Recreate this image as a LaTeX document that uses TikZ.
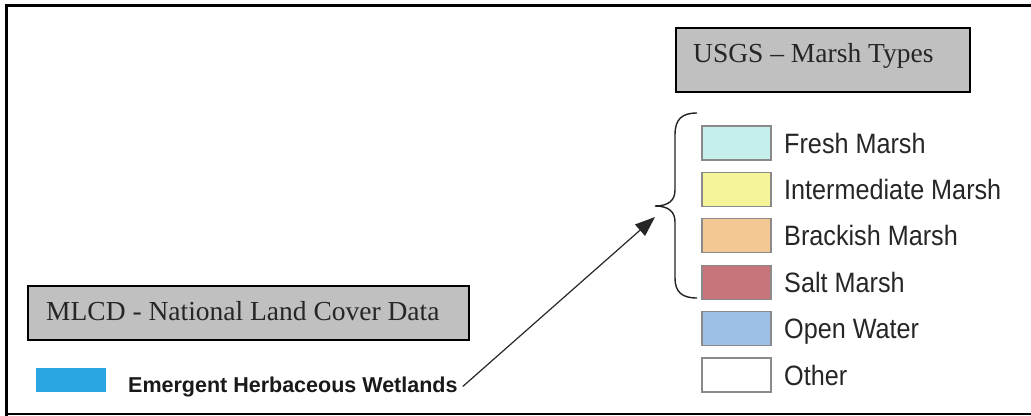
\documentclass[tikz,border=0pt]{standalone}
\usepackage{fontspec}
\setmainfont{Liberation Serif}
\newfontfamily\legfont[FakeStretch=0.9]{Liberation Sans}
\newfontfamily\emfont{Liberation Sans}
\usetikzlibrary{arrows.meta}
\definecolor{boxgray}{HTML}{C0C0C0}
\definecolor{fresh}{HTML}{C4EFEA}
\definecolor{inter}{HTML}{F6F49B}
\definecolor{brack}{HTML}{F3C893}
\definecolor{salt}{HTML}{C7757A}
\definecolor{openw}{HTML}{9EC0E7}
\definecolor{nlcdblue}{HTML}{29A5E2}
\definecolor{swatchedge}{HTML}{8A8A8A}
\definecolor{bracecol}{HTML}{222222}
\tikzset{
  titlebox/.style={draw=black, line width=1.3bp, fill=boxgray, inner sep=0pt},
  titletext/.style={inner sep=0pt, anchor=base west, font=\fontsize{27.5bp}{32bp}\selectfont, text=black!85},
  swatch/.style={draw=swatchedge, line width=1.2bp, minimum width=69bp, minimum height=34bp, inner sep=0pt},
  legtext/.style={inner sep=0pt, anchor=base west, font=\legfont\fontsize{28bp}{32bp}\selectfont, text=black!85},
  emtext/.style={inner xsep=5bp, inner ysep=0pt, anchor=base west, font=\emfont\bfseries\fontsize{21.5bp}{24bp}\selectfont, text=black!90},
  link/.style={draw=black!85, line width=1.2bp, -{Triangle[length=20bp,width=15bp]}},
  bracestyle/.style={draw=bracecol, line width=1.4bp},
  frame/.style={draw=black, line cap=rect, line join=miter}
}
\begin{document}
\begin{tikzpicture}[x=1bp, y=-1bp]
\useasboundingbox (0,0) rectangle (1031,415);
% outer frame
\draw[frame, line width=3.5bp] (6.7,415) -- (6.7,5.7) -- (1031,5.7);
\draw[frame, line width=2bp] (6.7,413.5) -- (1031,413.5);
% USGS title
\node[titlebox, minimum width=294bp, minimum height=64bp] (usgsbox) at (823,60) {};
\node[titletext] (usgstext) at (693,62) {USGS -- Marsh Types};
% MLCD title
\node[titlebox, minimum width=441bp, minimum height=54bp] (mlcdbox) at (248.5,313) {};
\node[titletext] (mlcdtext) at (46,320) {MLCD - National Land Cover Data};
% NLCD swatch and label
\node[fill=nlcdblue, minimum width=70bp, minimum height=24bp, inner sep=0pt] (emsw) at (71,380) {};
\node[emtext] (emerg) at (123,392) {Emergent Herbaceous Wetlands};
% legend swatches
\node[swatch, fill=fresh] (s1) at (736.5,143) {};
\node[swatch, fill=inter] (s2) at (736.5,189.4) {};
\node[swatch, fill=brack] (s3) at (736.5,235.8) {};
\node[swatch, fill=salt]  (s4) at (736.5,282.2) {};
\node[swatch, fill=openw] (s5) at (736.5,328.6) {};
\node[swatch, fill=white] (s6) at (736.5,375) {};
\node[legtext] (t1) at (784,153) {Fresh Marsh};
\node[legtext] (t2) at (784,199.4) {Intermediate Marsh};
\node[legtext] (t3) at (784,245.8) {Brackish Marsh};
\node[legtext] (t4) at (784,292.2) {Salt Marsh};
\node[legtext] (t5) at (784,338.6) {Open Water};
\node[legtext] (t6) at (784,385) {Other};
% brace
\coordinate (bracetop) at (697,113);
\coordinate (bracetip) at (655,206);
\coordinate (bracebot) at (697,298);
\draw[bracestyle] (bracetop) .. controls (682,113) and (675,119) .. (675,135)
  -- (675,190) .. controls (675,200) and (669,206) .. (bracetip)
  .. controls (669,206) and (675,212) .. (675,222)
  -- (675,278) .. controls (675,292) and (682,298) .. (bracebot);
% arrow
\coordinate (arrowend) at (655,217);
\draw[link] (emerg.east) -- (arrowend);
\end{tikzpicture}
\end{document}
